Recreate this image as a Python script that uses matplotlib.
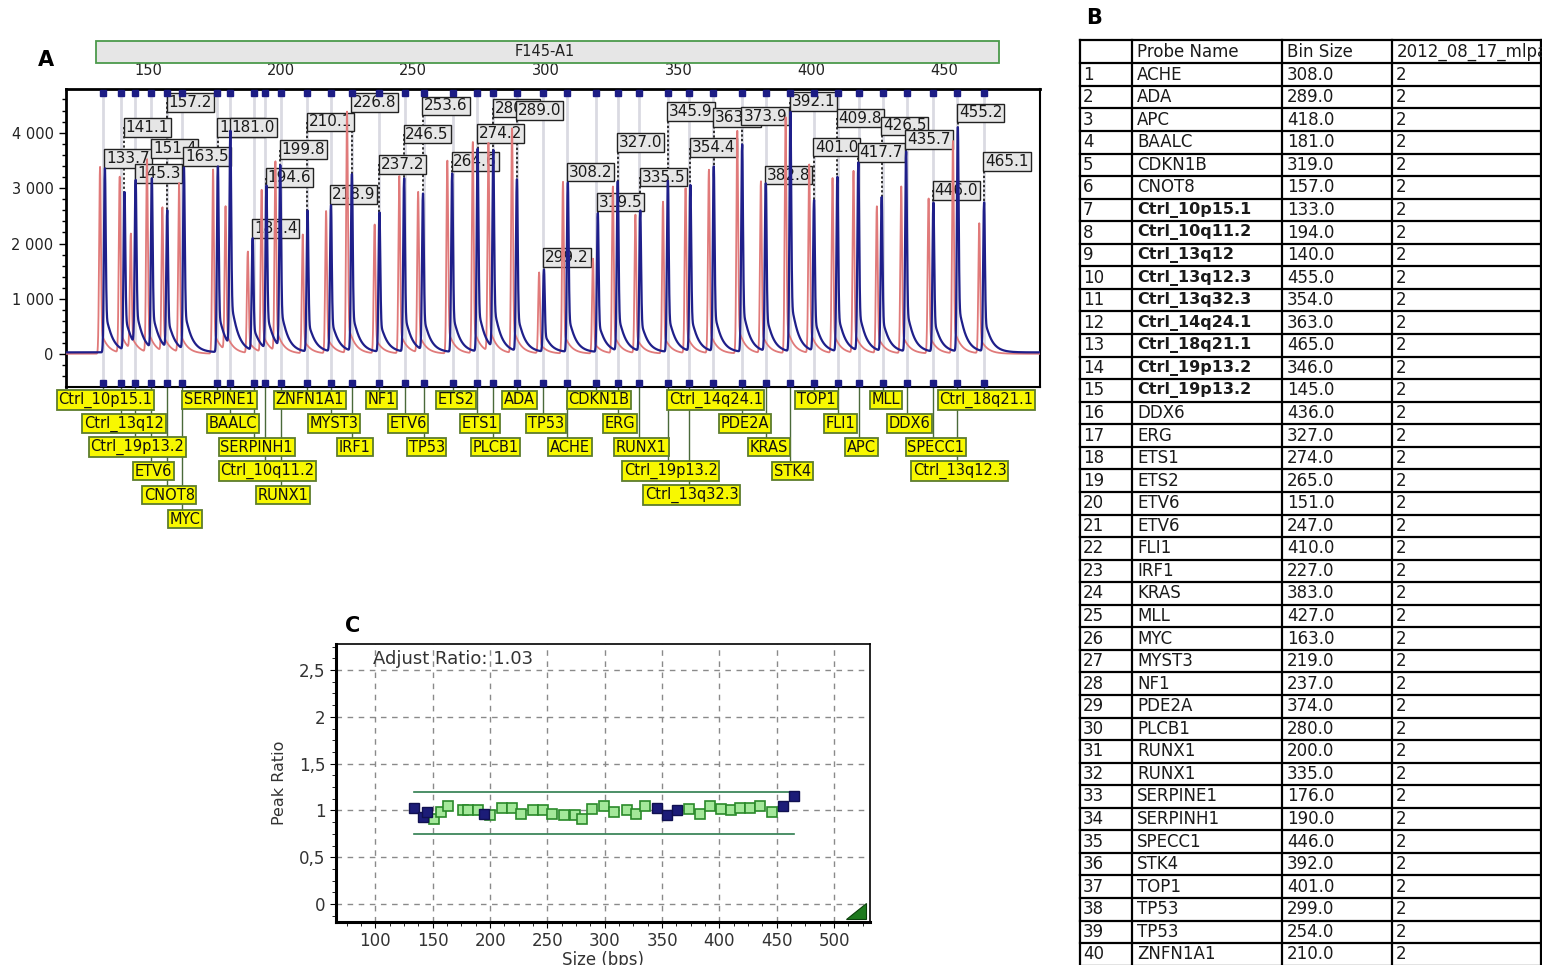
import numpy as np
import matplotlib
matplotlib.use("Agg")
import matplotlib.pyplot as plt
from matplotlib.patches import Rectangle, Polygon
from matplotlib.ticker import MultipleLocator, FixedLocator, FuncFormatter
from matplotlib.transforms import blended_transform_factory

plt.rcParams['font.family'] = ['DejaVu Sans']

W, H = 1548, 965

# ---- panel B: probe table
probe_names = ["ACHE", "ADA", "APC", "BAALC", "CDKN1B", "CNOT8",
               "Ctrl_10p15.1", "Ctrl_10q11.2", "Ctrl_13q12", "Ctrl_13q12.3",
               "Ctrl_13q32.3", "Ctrl_14q24.1", "Ctrl_18q21.1", "Ctrl_19p13.2",
               "Ctrl_19p13.2", "DDX6", "ERG", "ETS1", "ETS2", "ETV6", "ETV6",
               "FLI1", "IRF1", "KRAS", "MLL", "MYC", "MYST3", "NF1", "PDE2A",
               "PLCB1", "RUNX1", "RUNX1", "SERPINE1", "SERPINH1", "SPECC1",
               "STK4", "TOP1", "TP53", "TP53", "ZNFN1A1"]
bin_sizes = [308, 289, 418, 181, 319, 157, 133, 194, 140, 455, 354, 363, 465, 346,
             145, 436, 327, 274, 265, 151, 247, 410, 227, 383, 427, 163, 219, 237,
             374, 280, 200, 335, 176, 190, 446, 392, 401, 299, 254, 210]
copy_number = [2] * 40
table_header = ["", "Probe Name", "Bin Size", "2012_08_17_mlpa"]

# ---- panel A: peaks, in bin order
peak_sizes = [133.7, 141.1, 145.3, 151.4, 157.2, 163.5, 176.3, 181.0, 189.4, 194.6,
              199.8, 210.1, 218.9, 226.8, 237.2, 246.5, 253.6, 264.6, 274.2, 280.1,
              289.0, 299.2, 308.2, 319.5, 327.0, 335.5, 345.9, 354.4, 363.2, 373.9,
              382.8, 392.1, 401.0, 409.8, 417.7, 426.5, 435.7, 446.0, 455.2, 465.1]
sample_heights = [3250, 2790, 2910, 3000, 2430, 3210, 3280, 3790, 1980, 2880,
                  3210, 2490, 2580, 3120, 2460, 3060, 2760, 3150, 3580, 3490,
                  3030, 1450, 2990, 2450, 2990, 2480, 3020, 2930, 3260, 3660,
                  2960, 4230, 2660, 3080, 3320, 2720, 3530, 2630, 3960, 2630]
reference_heights = [3350, 3150, 2070, 3460, 2580, 3030, 3300, 2580, 1820, 2910,
                     3400, 2130, 2550, 4330, 2310, 3180, 2880, 3460, 3790, 3730,
                     4030, 1450, 3080, 1700, 2990, 2480, 2720, 2960, 3290, 3990,
                     3080, 4230, 3380, 3140, 3260, 2630, 2990, 2780, 3810, 2330]
label_heights = [3540, 4100, 3260, 3720, 4550, 3570, 4100, 4100, 2275, 3190,
                 3695, 4195, 2880, 4545, 3430, 3975, 4485, 3485, 3990, 4445,
                 4400, 1750, 3290, 2747, 3818, 3200, 4381, 3730, 4280, 4300,
                 3235, 4563, 3740, 4265, 3637, 4124, 3876, 2960, 4357, 3480]
label_rows = [1, 2, 3, 4, 5, 6, 1, 2, 3, 4, 5, 1, 2, 3, 1, 2, 3, 1, 2, 3,
              1, 2, 3, 1, 2, 3, 4, 5, 1, 2, 3, 4, 1, 2, 3, 1, 2, 3, 4, 1]

# ---- panel C: peak ratios, in bin order
peak_ratios = [1.03, 0.93, 0.98, 0.91, 0.98, 1.05, 1.00, 1.00, 1.00, 0.96,
               0.95, 1.03, 1.03, 0.96, 1.00, 1.00, 0.96, 0.95, 0.95, 0.91,
               1.02, 1.05, 0.98, 1.00, 0.96, 1.05, 1.03, 0.95, 1.00, 1.02,
               0.96, 1.05, 1.02, 1.00, 1.03, 1.03, 1.05, 0.98, 1.05, 1.15]
ratio_limits = [0.75, 1.2]
adjust_ratio = 1.03

order = np.argsort(bin_sizes, kind="stable")
sorted_bins = [bin_sizes[i] for i in order]
sorted_names = [probe_names[i] for i in order]


def fx(px):
    return px / W


def fy(py):
    return 1 - py / H


fig = plt.figure(figsize=(W / 100, H / 100), dpi=100)

# ================= panel A =================
axA = fig.add_axes([fx(66), fy(387), (1040 - 66) / W, (387 - 89) / H])
xlo = 150 - (148 - 66) / 2.653
xhi = 150 + (1040 - 148) / 2.653
axA.set_xlim(xlo, xhi)
axA.set_ylim(-590, 4789)

xs = np.arange(xlo, xhi, 0.04)


def render_trace(pos, hts, tail, tau, base):
    y = np.full_like(xs, base)
    for p, h in zip(pos, hts):
        d = xs - p
        dp = np.clip(d, 0, None)
        y += h * np.exp(-0.5 * (d / 0.32) ** 2)
        y += np.where(d > 0, tail * h * np.exp(-dp / tau) * (1 - np.exp(-dp / 0.35)), 0.0)
    return y


ref_pos = [p - 1.8 for p in peak_sizes]
axA.plot(xs, render_trace(ref_pos, reference_heights, 0.14, 2.5, 10),
         color='#e07a7a', lw=1.3, zorder=5)
axA.plot(xs, render_trace(peak_sizes, sample_heights, 0.26, 2.5, 35),
         color='#1f1f8a', lw=1.6, zorder=6)

for b in sorted_bins:
    axA.axvline(b, color='#dadae2', lw=2, zorder=1)

mtr = blended_transform_factory(axA.transData, axA.transAxes)
for yy in (0.985, 0.013):
    axA.plot(sorted_bins, [yy] * len(sorted_bins), ls='none', marker='s', ms=4.5,
             color='#1c1c84', transform=mtr, clip_on=False, zorder=7)

for i, (p, ly) in enumerate(zip(peak_sizes, label_heights)):
    axA.plot([p, p], [ly, sample_heights[i]], color='black', lw=1.1,
             ls=(0, (1.5, 1.5)), zorder=3)
    axA.text(p + 0.5, ly, f"{p:.1f}", ha='left', va='center', fontsize=11,
             color='#1a1a1a', zorder=4 + i * 0.01,
             bbox=dict(boxstyle='square,pad=0.12', fc='#e6e6e6', ec='#222222', lw=1))

axA.xaxis.tick_top()
axA.set_xticks([150, 200, 250, 300, 350, 400, 450])
axA.tick_params(axis='x', length=0, pad=8, labelsize=10.5, labelcolor='#222222')
axA.yaxis.set_major_locator(FixedLocator([0, 1000, 2000, 3000, 4000]))
axA.yaxis.set_minor_locator(MultipleLocator(200))
axA.yaxis.set_major_formatter(FuncFormatter(lambda v, p: f"{int(v):,}".replace(",", " ")))
axA.tick_params(axis='y', which='major', length=5, width=1, pad=4, labelsize=10.5,
                labelcolor='#222222')
axA.tick_params(axis='y', which='minor', length=3, width=1)
for s, lw in (('top', 2), ('left', 2), ('right', 1.5), ('bottom', 1.5)):
    axA.spines[s].set_linewidth(lw)

# probe name labels below panel A
tr = blended_transform_factory(axA.transData, fig.transFigure)
row_y = [400, 423.5, 447, 471, 495, 519]
for b, name, r in zip(sorted_bins, sorted_names, label_rows):
    yc = row_y[r - 1]
    axA.plot([b, b], [fy(387), fy(yc - 9)], transform=tr, clip_on=False,
             color='#4a6a3a', lw=1, zorder=1)
    axA.text(b + 1, fy(yc), name, transform=tr, ha='center', va='center',
             fontsize=10.5, clip_on=False, color='#111111', zorder=2,
             bbox=dict(boxstyle='square,pad=0.12', fc='#f8f800', ec='#5d7d2d', lw=1.3))

# sample header bar
fig.add_artist(Rectangle((fx(96), fy(63)), (999 - 96) / W, 22 / H,
                         transform=fig.transFigure, fc='#e6e6e6', ec='#4c9a4c', lw=1.3))
fig.text(fx(545), fy(52), "F145-A1", ha='center', va='center', fontsize=10.5,
         color='#222222')

# ================= panel B =================
axB = fig.add_axes([fx(1078), 0, (1542 - 1078) / W, fy(37)])
axB.set_xlim(1078, 1542)
axB.set_ylim(965, 37)
axB.axis('off')
col_x = [1080, 1132, 1282, 1392, 1541]
head_top, head_bot, row_h = 40, 63.3, 22.56
for cx in col_x:
    axB.plot([cx, cx], [head_top, 965], color='black', lw=1.6)
axB.plot([col_x[0], col_x[-1]], [head_top, head_top], color='black', lw=1.6)
for k in range(len(probe_names) + 1):
    yy = head_bot + k * row_h
    axB.plot([col_x[0], col_x[-1]], [yy, yy], color='black', lw=1.6)
for j, h in enumerate(table_header):
    axB.text(col_x[j] + 5, (head_top + head_bot) / 2, h, ha='left', va='center',
             fontsize=12, color='#1a1a1a', clip_on=True)
for k in range(len(probe_names)):
    yc = head_bot + (k + 0.5) * row_h
    bold = probe_names[k].startswith("Ctrl")
    axB.text(col_x[0] + 3, yc, str(k + 1), ha='left', va='center', fontsize=12,
             color='#1a1a1a')
    axB.text(col_x[1] + 5, yc, probe_names[k], ha='left', va='center',
             fontsize=11.5 if bold else 12, fontweight='bold' if bold else 'normal',
             color='#1a1a1a')
    axB.text(col_x[2] + 5, yc, f"{bin_sizes[k]:.1f}", ha='left', va='center',
             fontsize=12, color='#1a1a1a')
    axB.text(col_x[3] + 4, yc, str(copy_number[k]), ha='left', va='center',
             fontsize=12, color='#1a1a1a')

# ================= panel C =================
axC = fig.add_axes([fx(336), fy(922), 534 / W, 278 / H])
axC.set_xlim(65.6, 531.4)
axC.set_ylim(-0.192, 2.778)
axC.xaxis.set_major_locator(MultipleLocator(50))
axC.xaxis.set_minor_locator(MultipleLocator(12.5))
axC.yaxis.set_major_locator(MultipleLocator(0.5))
axC.yaxis.set_minor_locator(MultipleLocator(0.125))
axC.yaxis.set_major_formatter(FuncFormatter(lambda v, p: f"{v:g}".replace(".", ",")))
axC.grid(True, which='major', ls=(0, (4, 4)), color='#8a8a8a', lw=1)
axC.tick_params(which='major', direction='out', length=4, labelsize=12,
                labelcolor='#333333')
axC.tick_params(which='minor', direction='out', length=3)
for s, lw in (('left', 2.2), ('bottom', 2.2), ('top', 1.2), ('right', 1.2)):
    axC.spines[s].set_linewidth(lw)

for lim in ratio_limits:
    axC.plot([min(peak_sizes), max(peak_sizes)], [lim, lim], color='#2e7d4e', lw=1.2,
             zorder=3)
is_ctrl = [n.startswith("Ctrl") for n in sorted_names]
gx = [p for p, c in zip(peak_sizes, is_ctrl) if not c]
gy = [r for r, c in zip(peak_ratios, is_ctrl) if not c]
bx = [p for p, c in zip(peak_sizes, is_ctrl) if c]
by = [r for r, c in zip(peak_ratios, is_ctrl) if c]
axC.plot(gx, gy, ls='none', marker='s', ms=7, mfc='#a4e89a', mec='#2a8a2a', mew=1.2,
         zorder=4)
axC.plot(bx, by, ls='none', marker='s', ms=7, mfc='#1c1c78', mec='#101050', mew=1,
         zorder=4)
axC.text(0.069, 0.946, f"Adjust Ratio: {adjust_ratio:.2f}", transform=axC.transAxes,
         ha='left', va='center', fontsize=13, color='#333333')
axC.add_patch(Polygon([(0.955, 0.011), (0.9925, 0.011), (0.9925, 0.068)],
                      closed=True, transform=axC.transAxes, fc='#1e7a1e', ec='#0a400a',
                      lw=0.8, zorder=5))
axC.set_ylabel("Peak Ratio", fontsize=11.5, color='#333333')
axC.yaxis.set_label_coords(-0.092, 0.5)
axC.set_xlabel("Size (bps)", fontsize=12, color='#333333')
axC.xaxis.set_label_coords(0.5, -0.104)

# panel letters
for letter, px, py in (("A", 46, 60), ("B", 1094, 18), ("C", 353, 626)):
    fig.text(fx(px), fy(py), letter, ha='center', va='center', fontsize=15,
             fontweight='bold', family='DejaVu Sans')

fig.savefig("out.png", dpi=100)
